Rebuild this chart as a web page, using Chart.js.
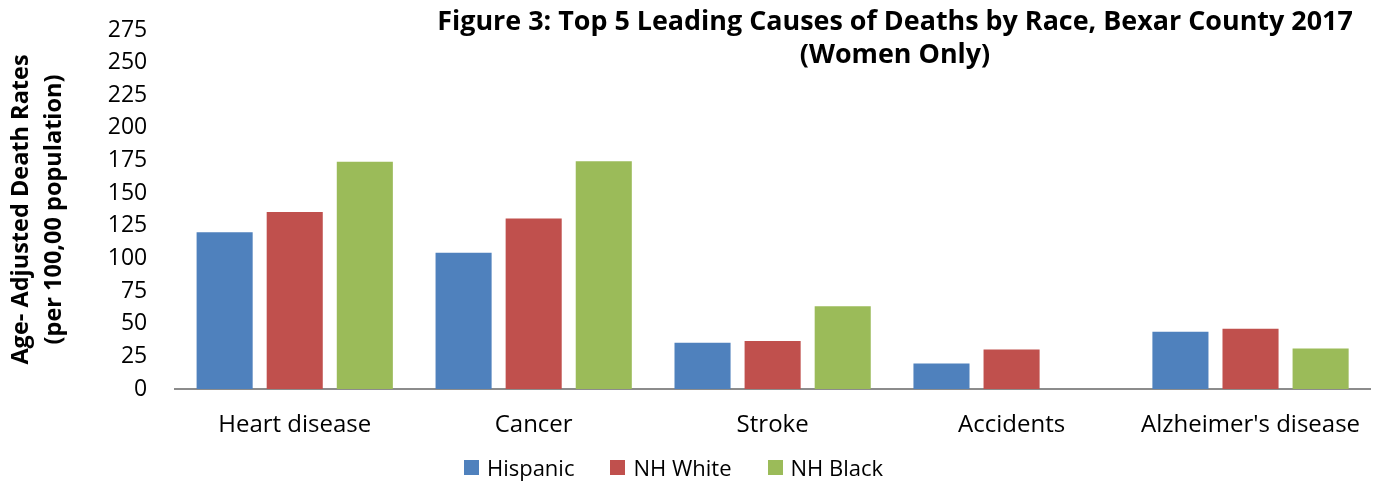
<!DOCTYPE html>
<html lang="en">
  <head>
    <meta charset="UTF-8" />
    <title>Top 5 Leading Causes of Deaths by Race, Bexar County 2017</title>
    <script src="https://cdn.jsdelivr.net/npm/chart.js"></script>
    <style>
      html, body { margin: 0; padding: 0; background: #fff; }
      body { font-family: "Open Sans", sans-serif; }
      #wrap { position: relative; width: 1375px; height: 482px; }
      #title {
        position: absolute;
        left: 395px;
        top: 3px;
        width: 1000px;
        text-align: center;
        font-weight: 700;
        font-size: 26.9px;
        line-height: 33px;
        color: #000;
      }
      /* legend drawn as html so it can sit close under the axis labels */
      #legend {
        position: absolute;
        left: 0;
        top: 453px;
        width: 1347px;
        display: flex;
        justify-content: center;
        gap: 36px;
        font-size: 22px;
        line-height: 28px;
        color: #000;
      }
      #legend span.item { display: flex; align-items: center; }
      #legend span.box { width: 15px; height: 15px; margin-right: 8px; display: inline-block; }
    </style>
  </head>
  <body>
    <div id="wrap">
      <canvas id="chart" width="1375" height="482"></canvas>
      <div id="title">Figure 3: Top 5 Leading Causes of Deaths by Race, Bexar County 2017<br />(Women Only)</div>
      <div id="legend"></div>
    </div>

    <script>
      // values
      const causes = ["Heart disease", "Cancer", "Stroke", "Accidents", "Alzheimer's disease"];
      const hispanic = [120, 104.3, 35.5, 19.6, 43.9];
      const nhWhite = [135.6, 130.7, 36.7, 30.3, 46.2];
      const nhBlack = [174, 174.5, 63.4, null, 31.1];
      const yTicks = [0, 25, 50, 75, 100, 125, 150, 175, 200, 225, 250, 275];

      const font = "'Open Sans', sans-serif";

      const chart = new Chart(document.getElementById("chart"), {
        type: "bar",
        data: {
          labels: causes,
          datasets: [
            { label: "Hispanic", data: hispanic, backgroundColor: "#4f81bd" },
            { label: "NH White", data: nhWhite, backgroundColor: "#c0504d" },
            { label: "NH Black", data: nhBlack, backgroundColor: "#9bbb59" },
          ],
        },
        options: {
          responsive: false,
          animation: false,
          categoryPercentage: 0.88,
          barPercentage: 0.8,
          layout: { padding: { top: 30, right: 5, left: 0, bottom: 21 } },
          scales: {
            x: {
              grid: { display: false, drawTicks: false },
              border: { display: true, color: "#8c8c8c", width: 2 },
              ticks: {
                color: "#000",
                padding: 12,
                font: { family: font, size: 24, lineHeight: 2.0 },
              },
            },
            y: {
              min: 0,
              max: 275,
              afterBuildTicks: (axis) => {
                axis.ticks = yTicks.map((v) => ({ value: v }));
              },
              grid: { display: false, drawTicks: false },
              border: { display: false },
              ticks: {
                color: "#000",
                autoSkip: false,
                padding: 28,
                font: { family: font, size: 23, lineHeight: 0.1 },
              },
              title: {
                display: true,
                text: ["Age- Adjusted Death Rates", "(per 100,00 population)"],
                color: "#000",
                font: { family: font, size: 23.5, weight: "bold", lineHeight: 1.4 },
                padding: { top: 5, bottom: 9 },
              },
            },
          },
          plugins: {
            legend: { display: false },
            tooltip: { enabled: false },
          },
        },
      });

      // html legend built from the chart's datasets
      const legendEl = document.getElementById("legend");
      chart.data.datasets.forEach((ds) => {
        const item = document.createElement("span");
        item.className = "item";
        const box = document.createElement("span");
        box.className = "box";
        box.style.background = ds.backgroundColor;
        item.appendChild(box);
        item.appendChild(document.createTextNode(ds.label));
        legendEl.appendChild(item);
      });
    </script>
  </body>
</html>
